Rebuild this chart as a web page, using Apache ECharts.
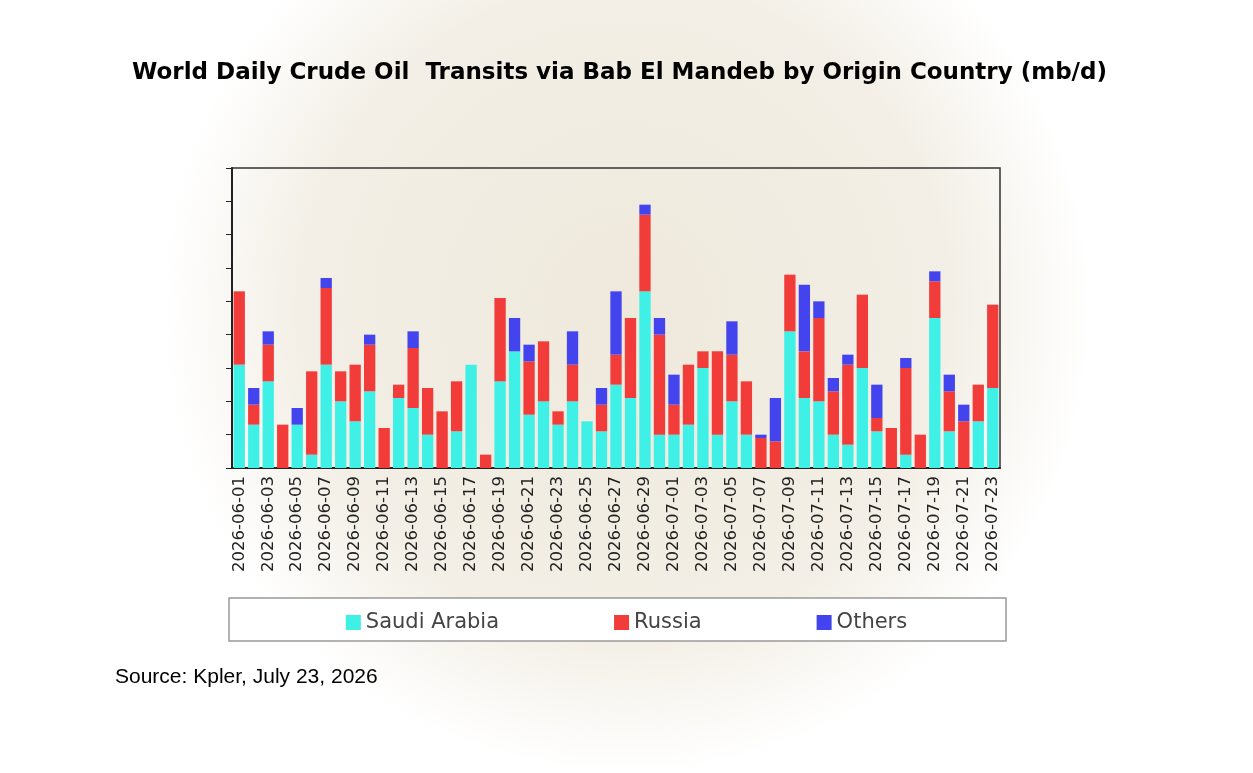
<!DOCTYPE html>
<html><head><meta charset="utf-8">
<script src="https://cdn.jsdelivr.net/npm/echarts@6/dist/echarts.min.js"></script>
<style>html,body{margin:0;padding:0;background:#fff}#c{width:1253px;height:773px}</style>
</head><body><div id="c"></div>
<script>
const dates = [];
const june = [1,2,3,4,5,6,7,8,9,10,11,12,13,14,15,16,17,18,19,20,21,22,23,24,25,26,27,28,29,30];
const july = [1,2,3,4,5,6,7,8,9,10,11,12,13,14,15,16,17,18,19,20,21,22,23];
june.forEach(d => dates.push('2026-06-' + String(d).padStart(2,'0')));
july.forEach(d => dates.push('2026-07-' + String(d).padStart(2,'0')));

const saudiArabia = [.31,.13,.26,0,.13,.04,.31,.20,.14,.23,0,.21,.18,.10,0,.11,.31,0,.26,.35,.16,.20,.13,.20,.14,.11,.25,.21,.53,.10,
  .10,.13,.30,.10,.20,.10,0,0,.41,.21,.20,.10,.07,.30,.11,0,.04,0,.45,.11,0,.14,.24];
const russia = [.22,.06,.11,.13,0,.25,.23,.09,.17,.14,.12,.04,.18,.14,.17,.15,0,.04,.25,0,.16,.18,.04,.11,0,.08,.09,.24,.23,.30,
  .09,.18,.05,.25,.14,.16,.09,.08,.17,.14,.25,.13,.24,.22,.04,.12,.26,.10,.11,.12,.14,.11,.25];
const others = [0,.05,.04,0,.05,0,.03,0,0,.03,0,0,.05,0,0,0,0,0,0,.10,.05,0,0,.10,0,.05,.19,0,.03,.05,
  .09,0,0,0,.10,0,.01,.13,0,.20,.05,.04,.03,0,.10,0,.03,0,.03,.05,.05,0,0];

const chart = echarts.init(document.getElementById('c'));
const bar = (name, data, color) => ({
  name, type: 'bar', stack: 'total', data, barCategoryGap: '22%',
  itemStyle: { color }, emphasis: { disabled: true }
});
chart.setOption({
  backgroundColor: {
    type: 'radial', x: 0.5, y: 0.4, r: 0.6,
    colorStops: [{offset: 0, color: '#efe9dc'}, {offset: 0.7, color: '#f3efe6'}, {offset: 1, color: '#ffffff'}]
  },
  animation: false,
  title: {
    text: 'World Daily Crude Oil  Transits via Bab El Mandeb by Origin Country (mb/d)',
    left: 127, top: 57,
    textStyle: { fontFamily: 'DejaVu Sans', fontWeight: 'bold', fontSize: 23, color: '#000' }
  },
  graphic: [
    { type: 'rect', shape: { x: 229, y: 598, width: 777, height: 43 },
      style: { fill: '#fff', stroke: '#999', lineWidth: 1.5 } },
    { type: 'text', left: 115, top: 667,
      style: { text: 'Source: Kpler, July 23, 2026', font: '21px "Liberation Sans"', fill: '#000' } }
  ],
  legend: {
    top: 607, left: 'center', itemGap: 115, itemWidth: 15, itemHeight: 15,
    icon: 'rect',
    textStyle: { fontFamily: 'DejaVu Sans', fontSize: 21, color: '#444' },
    data: ['Saudi Arabia', 'Russia', 'Others']
  },
  grid: { left: 232, right: 253, top: 168, bottom: 305, show: true, borderColor: '#333', borderWidth: 1.5, backgroundColor: 'transparent' },
  xAxis: {
    type: 'category', data: dates,
    axisLine: { lineStyle: { color: '#222', width: 2 } },
    axisTick: { alignWithLabel: false, lineStyle: { color: '#222' } },
    axisLabel: { rotate: 90, interval: 1, fontFamily: 'DejaVu Sans', fontSize: 16.5, color: '#222', margin: 8 }
  },
  yAxis: {
    type: 'value', min: 0, max: 0.9, interval: 0.1,
    axisLine: { show: true, lineStyle: { color: '#222', width: 2 } },
    axisTick: { show: true, inside: false, length: 6, lineStyle: { color: '#222' } },
    axisLabel: { show: false }, splitLine: { show: false }
  },
  series: [
    bar('Saudi Arabia', saudiArabia, '#3ef0e6'),
    bar('Russia', russia, '#f23c3a'),
    bar('Others', others, '#4444ee')
  ]
});
</script></body></html>
